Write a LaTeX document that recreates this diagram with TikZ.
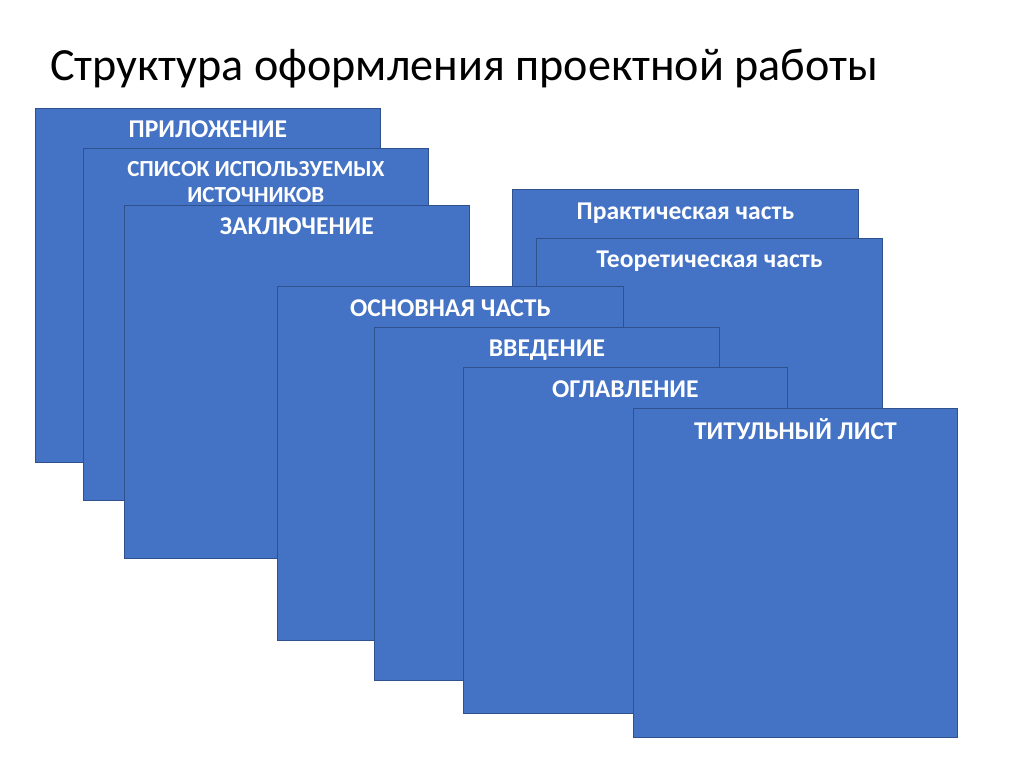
\documentclass[tikz,border=0pt]{standalone}
\usepackage{fontspec}
\setmainfont{Carlito}
\newsavebox\titlebox
\begin{document}
\sbox\titlebox{\fontsize{10pt}{12pt}\selectfont Структура оформления проектной работы}
\begin{tikzpicture}[x=1pt,y=-1pt,
  card/.style={draw=cardline, line width=0.8pt, fill=cardfill, rectangle, inner sep=0pt, anchor=north west},
  cardtext/.style={text=white, font=\fontsize{25.6pt}{28pt}\selectfont\bfseries, anchor=base, inner sep=0pt, align=center},
  smalltext/.style={cardtext, font=\fontsize{23pt}{26pt}\selectfont\bfseries}]
\definecolor{cardfill}{HTML}{4472C4}
\definecolor{cardline}{HTML}{2F528F}
\useasboundingbox[fill=white] (0,0) rectangle (1024,767);
\pgfmathsetmacro\tsize{10*828/(\the\wd\titlebox)}
\node[anchor=base west, inner sep=0pt, font=\fontsize{\tsize pt}{\tsize pt}\selectfont] (title) at (50,81) {Структура оформления проектной работы};
% cards, back to front
\node[card, minimum width=345pt, minimum height=354pt] (pril) at (35,108) {};
\node[cardtext] (prilt) at ([yshift=-30pt]pril.north) {ПРИЛОЖЕНИЕ};
\node[card, minimum width=345pt, minimum height=352pt] (spis) at (83,148) {};
\node[smalltext] (spist) at ([yshift=-29pt]spis.north) {СПИСОК ИСПОЛЬЗУЕМЫХ};
\node[smalltext] (spist2) at ([yshift=-55pt]spis.north) {ИСТОЧНИКОВ};
\node[card, minimum width=345pt, minimum height=353pt] (zakl) at (124,205) {};
\node[cardtext] (zaklt) at ([yshift=-29pt]zakl.north) {ЗАКЛЮЧЕНИЕ};
\node[card, minimum width=346pt, minimum height=352pt] (prak) at (512,189) {};
\node[cardtext] (prakt) at ([yshift=-30pt]prak.north) {Практическая часть};
\node[card, minimum width=346pt, minimum height=352pt] (teor) at (536,238) {};
\node[cardtext] (teort) at ([yshift=-29pt]teor.north) {Теоретическая часть};
\node[card, minimum width=346pt, minimum height=354pt] (osn) at (277,286) {};
\node[cardtext] (osnt) at ([yshift=-30pt]osn.north) {ОСНОВНАЯ ЧАСТЬ};
\node[card, minimum width=345pt, minimum height=353pt] (vved) at (374,327) {};
\node[cardtext] (vvedt) at ([yshift=-29pt]vved.north) {ВВЕДЕНИЕ};
\node[card, minimum width=324pt, minimum height=346pt] (ogl) at (463,367) {};
\node[cardtext] (oglt) at ([yshift=-30pt]ogl.north) {ОГЛАВЛЕНИЕ};
\node[card, minimum width=324pt, minimum height=329pt] (tit) at (633,408) {};
\node[cardtext] (titt) at ([yshift=-31pt]tit.north) {ТИТУЛЬНЫЙ ЛИСТ};
\end{tikzpicture}
\end{document}
